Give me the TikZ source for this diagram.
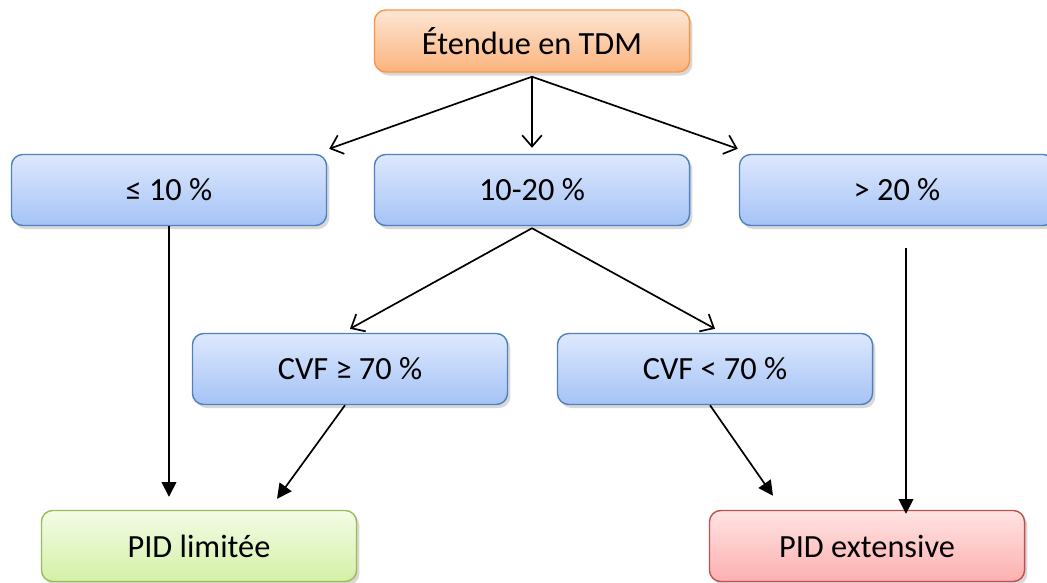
\documentclass[tikz,border=0pt]{standalone}
\usepackage{fontspec}
\setmainfont{Carlito}
\usetikzlibrary{arrows.meta,calc,shadows}

\definecolor{bleuhaut}{HTML}{DDE8FD}
\definecolor{bleubas}{HTML}{A5C3F6}
\definecolor{bleubord}{HTML}{4F81BD}
\definecolor{orhaut}{HTML}{FDE6D4}
\definecolor{orbas}{HTML}{FBB37C}
\definecolor{orbord}{HTML}{F79646}
\definecolor{verthaut}{HTML}{F3FCE6}
\definecolor{vertbas}{HTML}{D4F0A6}
\definecolor{vertbord}{HTML}{9BBB59}
\definecolor{rougehaut}{HTML}{FFE3E3}
\definecolor{rougebas}{HTML}{FDB0B0}
\definecolor{rougebord}{HTML}{C0504D}

\begin{document}
\begin{tikzpicture}[x=0.025cm,y=-0.025cm]
    \tikzset{boite/.style={rectangle,rounded corners=8pt,line width=1pt,minimum width=7.875cm,minimum height=1.775cm,font=\fontsize{23}{27}\selectfont,drop shadow={shadow xshift=2pt,shadow yshift=-2.5pt,fill=black!30}},
             bleu/.style={boite,draw=bleubord,top color=bleuhaut,bottom color=bleubas},
             fleche/.style={line width=1.2pt,-{Straight Barb[length=8pt,width=14pt]}},
             pleine/.style={line width=1.2pt,-{Triangle[length=10.5pt,width=10.5pt]}}};
	\useasboundingbox (0,0) rectangle (1047,583);
	\node (tdm) at (532,41) [boite,minimum height=1.55cm,draw=orbord,top color=orhaut,bottom color=orbas]{Étendue en TDM};
	\node (dix) at (169,190) [bleu]{≤ 10 \%};
	\node (vingt) at (532,190) [bleu]{10-20 \%};
	\node (plus) at (897,190) [bleu]{> 20 \%};
	\node (cvfa) at (350,369) [bleu]{CVF ≥ 70 \%};
	\node (cvfb) at (715,369) [bleu]{CVF < 70 \%};
	\node (lim) at (199,546) [boite,draw=vertbord,top color=verthaut,bottom color=vertbas]{PID limitée};
	\node (ext) at (867,546) [boite,draw=rougebord,top color=rougehaut,bottom color=rougebas]{PID extensive};
	\draw[fleche] ($(tdm.south)+(0,4)$) -- ($(dix.north east)+(2,-5)$);
	\draw[fleche] ($(tdm.south)+(0,4)$) -- ($(vingt.north)+(0,-6)$);
	\draw[fleche] ($(tdm.south)+(0,4)$) -- ($(plus.north west)+(-1,-5)$);
	\draw[fleche] ($(vingt.south)+(0,2)$) -- ($(cvfa.north)+(0,-4)$);
	\draw[fleche] ($(vingt.south)+(0,2)$) -- ($(cvfb.north)+(0,-4)$);
	\draw[pleine] (dix.south) -- ($(dix.south |- lim.north)+(0,-13)$);
	\draw[pleine] ($(cvfa.south)+(-5,0)$) -- ($(lim.north)+(78,-11)$);
	\draw[pleine] ($(cvfb.south)+(-5,0)$) -- ($(ext.north)+(-94,-14)$);
	\draw[pleine] ($(plus.south)+(9,22)$) -- ($(ext.north)+(39,4)$);
\end{tikzpicture}
\end{document}
